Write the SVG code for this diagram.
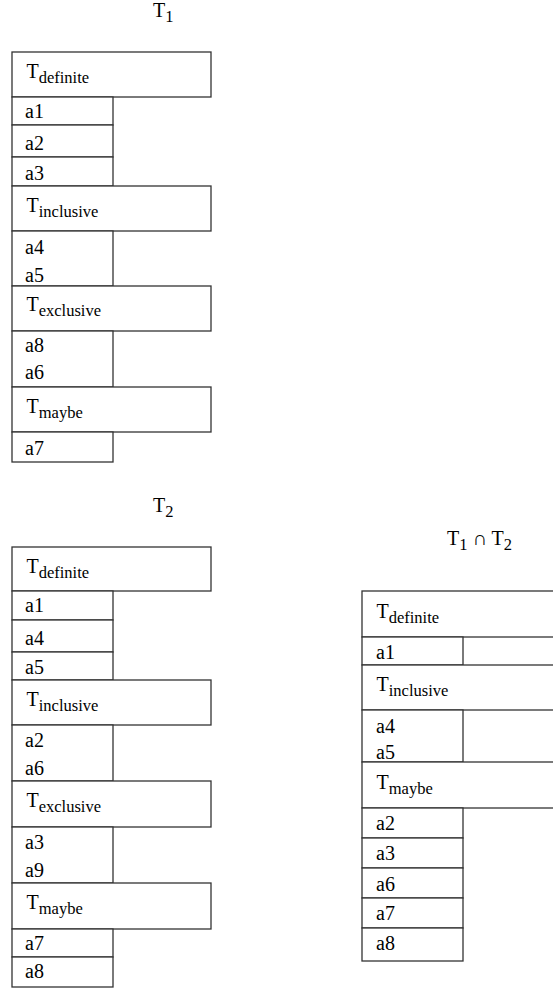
<svg xmlns="http://www.w3.org/2000/svg" width="553" height="990" viewBox="0 0 553 990">
<style>
.b{fill:#fff;stroke:#333;stroke-width:1.3}
.t{font-family:"Liberation Serif","Times New Roman","DejaVu Serif",serif;font-size:20px;fill:#000}
.s{font-size:16.5px}
</style>
<rect width="553" height="990" fill="#fff"/>
<g id="label-t1"><text class="t" x="153" y="17">T<tspan class="s" dy="4.5">1</tspan></text></g>
<g id="label-t2"><text class="t" x="153" y="512">T<tspan class="s" dy="4.5">2</tspan></text></g>
<g id="label-t1t2"><text class="t" x="447" y="545">T<tspan class="s" dy="4.5">1</tspan><tspan dy="-4.5"> ∩ T</tspan><tspan class="s" dy="4.5">2</tspan></text></g>

<g id="table-t1">
<g id="t1-definite"><rect class="b" x="12" y="52" width="199" height="45"/><text class="t" x="26.5" y="78">T<tspan class="s" dy="5">definite</tspan></text></g>
<g id="t1-a1"><rect class="b" x="12" y="97" width="101" height="28"/><text class="t" x="25" y="118">a1</text></g>
<g id="t1-a2"><rect class="b" x="12" y="125" width="101" height="32"/><text class="t" x="25" y="150">a2</text></g>
<g id="t1-a3"><rect class="b" x="12" y="157" width="101" height="29"/><text class="t" x="25" y="180">a3</text></g>
<g id="t1-inclusive"><rect class="b" x="12" y="186" width="199" height="45"/><text class="t" x="26.5" y="212">T<tspan class="s" dy="5">inclusive</tspan></text></g>
<g id="t1-a4a5"><rect class="b" x="12" y="231" width="101" height="55"/><text class="t" x="25" y="254">a4</text><text class="t" x="25" y="282">a5</text></g>
<g id="t1-exclusive"><rect class="b" x="12" y="286" width="199" height="45"/><text class="t" x="26.5" y="311">T<tspan class="s" dy="5">exclusive</tspan></text></g>
<g id="t1-a8a6"><rect class="b" x="12" y="331" width="101" height="56"/><text class="t" x="25" y="352">a8</text><text class="t" x="25" y="379">a6</text></g>
<g id="t1-maybe"><rect class="b" x="12" y="387" width="199" height="45"/><text class="t" x="26.5" y="413">T<tspan class="s" dy="5">maybe</tspan></text></g>
<g id="t1-a7"><rect class="b" x="12" y="432" width="101" height="30"/><text class="t" x="25" y="455">a7</text></g>
</g>

<g id="table-t2">
<g id="t2-definite"><rect class="b" x="12" y="547" width="199" height="44"/><text class="t" x="26.5" y="573">T<tspan class="s" dy="5">definite</tspan></text></g>
<g id="t2-a1"><rect class="b" x="12" y="591" width="101" height="29"/><text class="t" x="25" y="612">a1</text></g>
<g id="t2-a4"><rect class="b" x="12" y="620" width="101" height="32"/><text class="t" x="25" y="645">a4</text></g>
<g id="t2-a5"><rect class="b" x="12" y="652" width="101" height="28"/><text class="t" x="25" y="674">a5</text></g>
<g id="t2-inclusive"><rect class="b" x="12" y="680" width="199" height="45"/><text class="t" x="26.5" y="706">T<tspan class="s" dy="5">inclusive</tspan></text></g>
<g id="t2-a2a6"><rect class="b" x="12" y="725" width="101" height="56"/><text class="t" x="25" y="747">a2</text><text class="t" x="25" y="775">a6</text></g>
<g id="t2-exclusive"><rect class="b" x="12" y="781" width="199" height="46"/><text class="t" x="26.5" y="807">T<tspan class="s" dy="5">exclusive</tspan></text></g>
<g id="t2-a3a9"><rect class="b" x="12" y="827" width="101" height="56"/><text class="t" x="25" y="849">a3</text><text class="t" x="25" y="877">a9</text></g>
<g id="t2-maybe"><rect class="b" x="12" y="883" width="199" height="46"/><text class="t" x="26.5" y="909">T<tspan class="s" dy="5">maybe</tspan></text></g>
<g id="t2-a7"><rect class="b" x="12" y="929" width="101" height="28"/><text class="t" x="25" y="950">a7</text></g>
<g id="t2-a8"><rect class="b" x="12" y="957" width="101" height="30"/><text class="t" x="25" y="978">a8</text></g>
</g>

<g id="table-t1t2">
<g id="t12-definite"><rect class="b" x="362" y="591" width="240" height="46"/><text class="t" x="376.5" y="618">T<tspan class="s" dy="5">definite</tspan></text></g>
<g id="t12-a1"><rect class="b" x="362" y="637" width="101" height="28"/><text class="t" x="376" y="659">a1</text></g>
<g id="t12-inclusive"><rect class="b" x="362" y="665" width="240" height="45"/><text class="t" x="376.5" y="691">T<tspan class="s" dy="5">inclusive</tspan></text></g>
<g id="t12-a4a5"><rect class="b" x="362" y="710" width="101" height="52"/><text class="t" x="376" y="733">a4</text><text class="t" x="376" y="759">a5</text></g>
<g id="t12-maybe"><rect class="b" x="362" y="762" width="240" height="46"/><text class="t" x="376.5" y="789">T<tspan class="s" dy="5">maybe</tspan></text></g>
<g id="t12-a2"><rect class="b" x="362" y="808" width="101" height="30"/><text class="t" x="376" y="830">a2</text></g>
<g id="t12-a3"><rect class="b" x="362" y="838" width="101" height="30"/><text class="t" x="376" y="860">a3</text></g>
<g id="t12-a6"><rect class="b" x="362" y="868" width="101" height="30"/><text class="t" x="376" y="891">a6</text></g>
<g id="t12-a7"><rect class="b" x="362" y="898" width="101" height="30"/><text class="t" x="376" y="920">a7</text></g>
<g id="t12-a8"><rect class="b" x="362" y="928" width="101" height="33"/><text class="t" x="376" y="950">a8</text></g>
</g>
</svg>
